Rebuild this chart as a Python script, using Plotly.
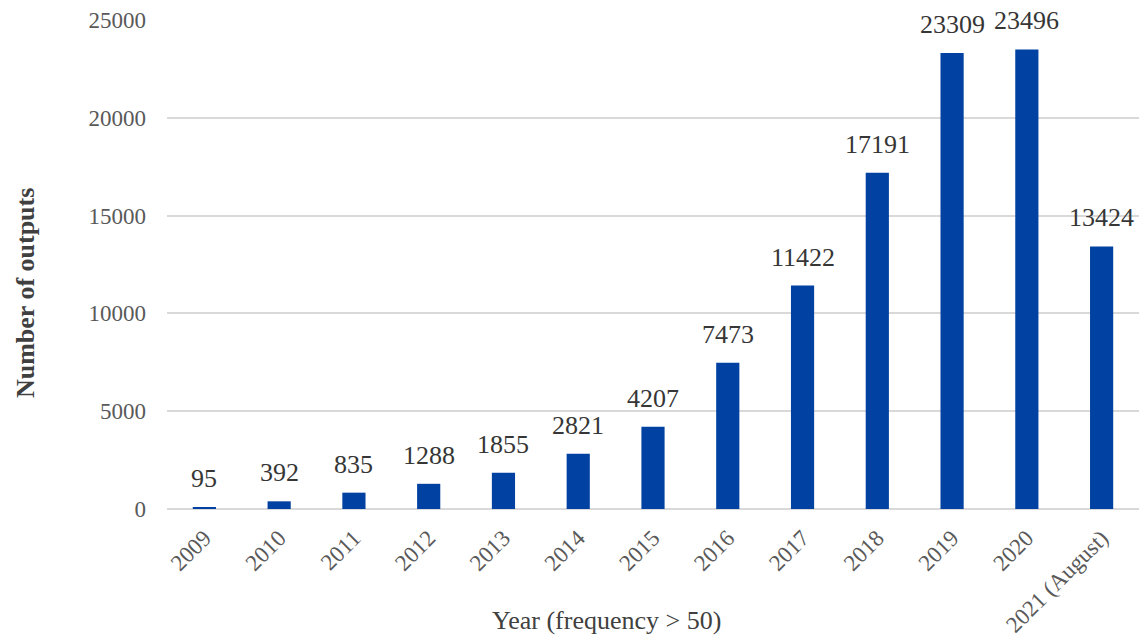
import plotly.graph_objects as go

years = ["2009", "2010", "2011", "2012", "2013", "2014", "2015", "2016",
         "2017", "2018", "2019", "2020", "2021 (August)"]
outputs = [95, 392, 835, 1288, 1855, 2821, 4207, 7473,
           11422, 17191, 23309, 23496, 13424]
y_ticks = [0, 5000, 10000, 15000, 20000, 25000]

FONT = "Liberation Serif, Times New Roman, serif"
BAR = "#0041A1"

fig = go.Figure(go.Bar(
    x=years, y=outputs, marker=dict(color=BAR, line=dict(width=0)),
    hoverinfo="x+y",
))

# value labels above each bar (category positions by index)
for i, v in enumerate(outputs):
    fig.add_annotation(x=i, y=v, text=str(v), showarrow=False,
                       yanchor="bottom", yshift=12,
                       font=dict(family=FONT, size=26, color="#363636"))

fig.add_annotation(xref="paper", yref="paper", x=(606 - 167) / 972, y=-0.227,
                   text="Year (frequency > 50)", showarrow=False,
                   xanchor="center", yanchor="middle",
                   font=dict(family=FONT, size=26, color="#404040"))
fig.add_annotation(xref="paper", yref="paper", x=-0.146, y=(509 - 293) / 489,
                   text="<b>Number of outputs</b>", showarrow=False, textangle=-90,
                   xanchor="center", yanchor="middle",
                   font=dict(family=FONT, size=26, color="#404040"))

fig.update_layout(
    width=1139, height=637,
    margin=dict(l=167, r=0, t=20, b=128),
    paper_bgcolor="white", plot_bgcolor="white",
    bargap=0.69, showlegend=False,
    font=dict(family=FONT, color="#595959"),
    xaxis=dict(type="category", tickangle=-45, range=[-0.5, len(years) - 0.5],
               tickfont=dict(family=FONT, size=23, color="#595959"),
               showgrid=False, showline=False, ticks="", ticklabelstandoff=10),
    yaxis=dict(range=[0, 25000], tickvals=y_ticks, ticktext=[str(t) for t in y_ticks],
               tickfont=dict(family=FONT, size=23, color="#595959"),
               showgrid=True, gridcolor="#D9D9D9", gridwidth=1.5,
               zeroline=True, zerolinecolor="#D9D9D9", zerolinewidth=1.5,
               showline=False, ticks="", ticklabelstandoff=20),
)

fig.write_html("out.html")
